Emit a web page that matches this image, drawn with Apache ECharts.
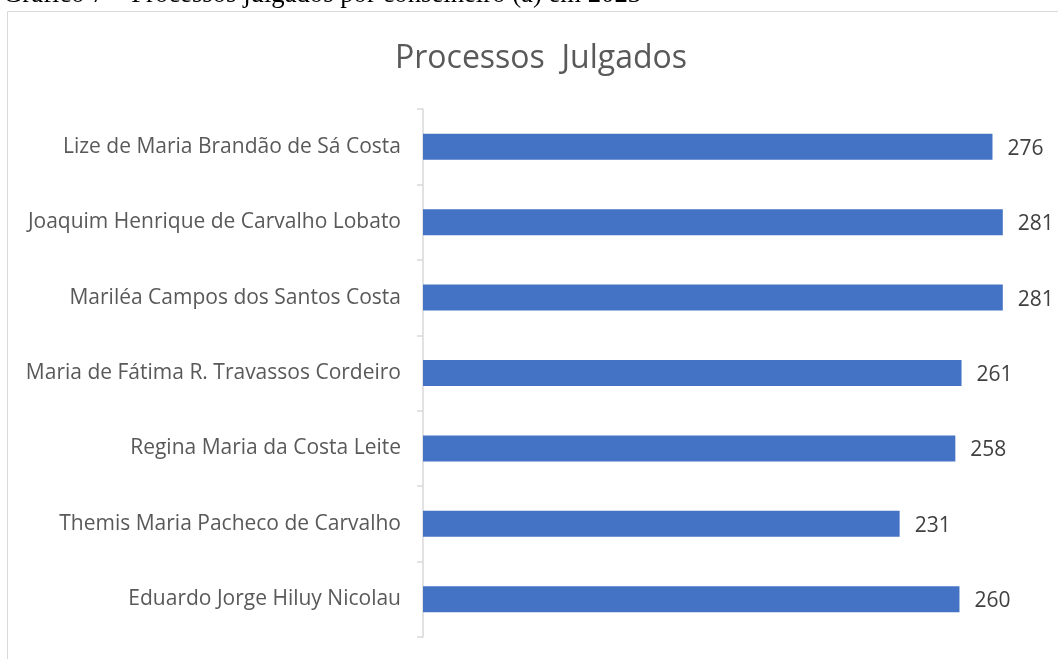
<!DOCTYPE html>
<html>
<head>
<meta charset="utf-8">
<script src="https://cdn.jsdelivr.net/npm/echarts@6/dist/echarts.min.js"></script>
<style>
html,body{margin:0;padding:0;background:#fff;}
#c{width:1058px;height:659px;}
</style>
</head>
<body>
<div id="c"></div>
<script>
const categories = [
  "Lize de Maria Brandão de Sá Costa",
  "Joaquim Henrique de Carvalho Lobato",
  "Mariléa Campos dos Santos Costa",
  "Maria de Fátima R. Travassos Cordeiro",
  "Regina Maria da Costa Leite",
  "Themis Maria Pacheco de Carvalho",
  "Eduardo Jorge Hiluy Nicolau"
];
const values = [276, 281, 281, 261, 258, 231, 260];
const titleText = "Processos  Julgados";
const captionText = "Gráfico 7 – Processos julgados por conselheiro (a) em 2023";

const chart = echarts.init(document.getElementById('c'), null, {renderer: 'canvas'});
chart.setOption({
  animation: false,
  backgroundColor: '#fff',
  title: {
    text: titleText,
    left: 536, top: 38, textAlign: 'center',
    textStyle: {fontFamily: 'Open Sans', fontSize: 32, fontWeight: 'normal', color: '#595959'}
  },
  graphic: [
    {type: 'rect', silent: true, shape: {x: 7.5, y: 11.5, width: 1060, height: 660},
     style: {fill: 'none', stroke: '#d9d9d9', lineWidth: 1}},
    {type: 'text', left: 3, top: -19, silent: true,
     style: {text: captionText, font: '26.7px "Liberation Serif"', fill: '#000'}}
  ],
  grid: {left: 423, right: 16, top: 109, bottom: 22, containLabel: false},
  xAxis: {
    type: 'value', min: 0, max: 300, show: false
  },
  yAxis: {
    type: 'category', data: categories, inverse: true,
    axisLine: {show: true, lineStyle: {color: '#d9d9d9', width: 1.5}},
    axisTick: {show: true, length: 6, lineStyle: {color: '#d9d9d9', width: 1.5}},
    axisLabel: {margin: 22, fontFamily: 'Open Sans', fontSize: 21, color: '#595959', padding: [5, 0, 0, 0]}
  },
  series: [{
    type: 'bar', data: values, barWidth: 26,
    itemStyle: {color: '#4472c4'},
    label: {show: true, position: 'right', distance: 15, offset: [0, 2], fontFamily: 'Open Sans', fontSize: 21, color: '#404040'}
  }]
});
</script>
</body>
</html>
